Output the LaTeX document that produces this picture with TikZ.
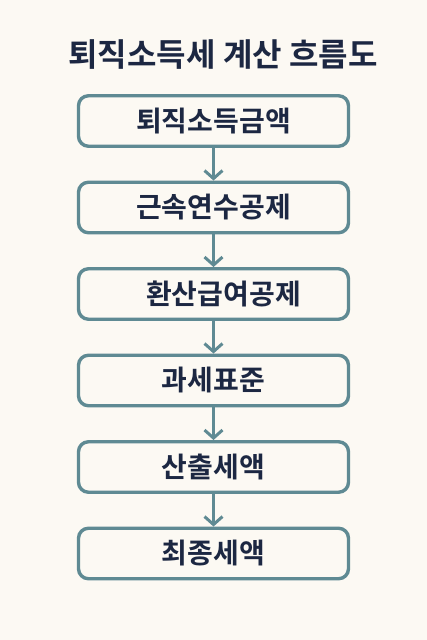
\documentclass[tikz,border=0pt]{standalone}
\usepackage{fontspec}
\setmainfont{Noto Sans CJK KR}[BoldFont={Noto Sans CJK KR Bold}]
\usetikzlibrary{positioning,arrows.meta}
\definecolor{bgcream}{HTML}{FCF9F3}
\definecolor{edgeteal}{HTML}{5F8A93}
\definecolor{inknavy}{HTML}{1C2742}
\tikzset{stepbox/.style={draw=edgeteal,line width=3.4pt,rounded corners=10pt,fill=bgcream,
    minimum width=270pt,minimum height=50.5pt,inner sep=0pt,text=inknavy,font=\fontsize{28}{30}\selectfont\bfseries},
  flow/.style={draw=edgeteal,line width=3pt,-{Straight Barb[length=8pt,width=18pt]}}}
\begin{document}
\begin{tikzpicture}[x=1pt,y=1pt,node distance=32.6pt]
      \fill[bgcream] (0,0) rectangle (427,640);
      \useasboundingbox (0,0) rectangle (427,640);
      \node[text=inknavy,font=\fontsize{32}{36}\selectfont\bfseries] (title) at (223,585) {퇴직소득세 계산 흐름도};
      \node[stepbox] (retire) at (213.5,519) {퇴직소득금액};
      \node[stepbox,below=of retire] (service) {근속연수공제};
      \node[stepbox,below=of service] (convert) {\hspace*{20pt}환산급여공제};
      \node[stepbox,below=of convert] (base) {과세표준};
      \node[stepbox,below=of base] (calc) {산출세액};
      \node[stepbox,below=of calc] (final) {최종세액};
      \draw[flow] (retire)--(service); \draw[flow] (service)--(convert);
      \draw[flow] (convert)--(base); \draw[flow] (base)--(calc);
      \draw[flow] (calc)--(final);
    \end{tikzpicture}
\end{document}
